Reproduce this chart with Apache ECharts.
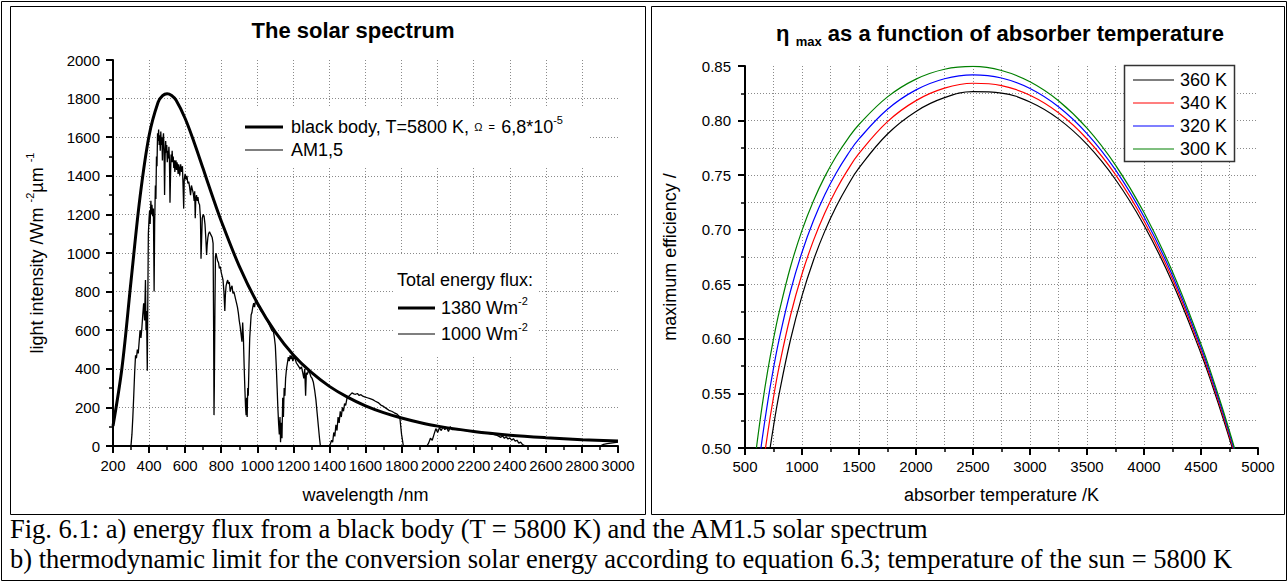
<!DOCTYPE html>
<html>
<head>
<meta charset="utf-8">
<script src="https://cdn.jsdelivr.net/npm/echarts@6/dist/echarts.min.js"></script>
<style>
html,body{margin:0;padding:0;background:#fff;}
#chart{width:1288px;height:583px;}
</style>
</head>
<body>
<div id="chart"></div>
<script>
// ---- Panel a) black body (Planck, T=5800 K) ----
const bbNm  = [200,250,300,350,400,450,475,500,525,550,600,650,700,750,800,900,1000,1100,1200,1300,1400,1500,1600,1700,1800,1900,2000,2200,2400,2600,2800,3000];
const bbVal = [104,407,855,1291,1608,1781,1815,1825,1816,1791,1697,1573,1436,1298,1166,932,741,590,472,381,309,253,208,173,145,122,103,75,56,43,33,26];

// ---- Panel a) AM1.5 spectrum ----
const am15Nm = [
 295,300,305,310,315,320,325,330,335,340,345,350,355,360,365,370,375,380,383,386,390,393,396,
 400,403,406,410,413,416,420,424,428,431,435,438,441,444,447,450,453,456,459,462,465,468,471,474,477,480,483,486,489,492,495,498,
 501,504,507,510,513,516,519,522,525,528,531,534,537,540,543,546,549,552,555,558,561,564,567,570,575,580,585,589,592,595,
 600,605,610,615,620,625,630,635,640,645,650,653,656,659,663,667,671,675,680,685,688,691,695,
 700,705,710,715,719,722,726,730,735,740,745,750,755,758,760,762,765,768,771,775,780,785,790,795,
 800,805,810,815,820,823,827,832,836,840,845,850,855,860,865,870,875,880,885,890,895,
 900,905,910,915,919,923,927,931,935,938,941,944,947,950,954,958,962,966,970,975,980,985,990,995,
 1000,1010,1020,1030,1040,1050,1060,1070,1080,1090,1095,1100,1105,1110,1114,1118,1122,1126,1129,1133,1137,1141,1145,1149,1153,1157,1162,1167,1172,1177,1182,1187,1192,1197,
 1203,1210,1217,1224,1231,1238,1245,1252,1258,1263,1268,1272,1277,1283,1290,1297,1304,1311,1318,1325,1332,1339,1345,1350,
 1400,1405,1412,1418,1424,1430,1436,1442,1448,1454,1460,1466,1472,1478,1484,1490,1497,
 1505,1515,1525,1535,1545,1555,1565,1575,1585,1595,1610,1625,1640,1655,1670,1685,1700,1715,1730,1745,1760,1775,1790,1800,1810,
 1940,1950,1960,1970,1980,1990,2000,2010,2020,2030,2040,2050,2060,2070,2080,2100,2130,2160,2190,2220,2250,2280,2310,2330,2350,2360,2370,2380,2390,2400,2410,2420,2430,2440,2450,2460,2470,2480,2490,
 2900,2920,2940,2960,2980,3000
];
const am15Val = [
 0,5,60,150,260,380,470,455,500,480,540,600,560,610,680,740,650,860,600,700,390,760,1100,
 1180,1220,1150,1270,1200,1250,1190,1230,800,1150,1350,1280,1500,1450,1620,1580,1640,1560,1610,1530,1630,1560,1600,1480,1590,1620,1540,1300,1500,1580,1520,1560,
 1470,1530,1490,1550,1480,1260,1400,1510,1470,1530,1470,1500,1440,1480,1420,1470,1480,1430,1470,1450,1410,1460,1440,1400,1460,1420,1450,1330,1230,1380,
 1410,1380,1400,1360,1370,1340,1300,1350,1330,1310,1270,1320,1180,1280,1300,1270,1290,1260,1250,1180,970,1060,1180,
 1200,1190,1150,1070,990,1040,1080,1100,1110,1100,1090,1080,1050,600,160,320,700,980,1000,980,960,950,920,930,
 900,880,860,800,700,780,830,850,860,840,850,800,820,830,790,800,780,760,740,720,690,
 650,620,580,540,640,560,420,300,200,160,250,150,300,260,420,560,620,680,690,720,740,720,750,745,
 735,720,700,690,680,660,640,620,600,590,560,520,420,300,200,120,60,150,20,120,40,250,150,300,260,350,400,430,460,440,470,450,470,440,
 460,450,430,420,410,400,410,380,350,400,260,380,370,390,380,360,350,330,290,240,170,100,40,0,
 0,10,30,20,70,50,110,80,150,120,180,150,200,180,220,210,245,
 255,265,275,270,268,272,262,266,258,255,250,245,240,232,225,212,205,195,185,180,172,165,150,60,0,
 0,15,40,30,60,90,70,95,80,100,85,95,75,100,85,85,82,80,76,74,70,66,60,55,45,52,40,48,36,42,30,38,25,30,15,20,8,3,0,
 0,8,12,15,18,20
];

// ---- Panel b) maximum efficiency vs absorber temperature ----
const absorberK = [600,650,700,750,800,900,1000,1100,1200,1300,1400,1500,1750,2000,2250,2500,2750,3000,3250,3500,3750,4000,4250,4500,4600,4700,4800];
const eff360 = [.39995,.44608,.48561,.51985,.54980,.59965,.63943,.67186,.69872,.72125,.74034,.75660,.78771,.80841,.82098,.82645,.82517,.81701,.80156,.77817,.74603,.70414,.65141,.58664,.55705,.52524,.49109];
const eff340 = [.43328,.47684,.51418,.54652,.57479,.62186,.65942,.69002,.71536,.73660,.75457,.76987,.79903,.81826,.82967,.83418,.83207,.82320,.80711,.78313,.75043,.70800,.65476,.58947,.55968,.52766,.49330];
const eff320 = [.46662,.50761,.54274,.57317,.59978,.64407,.67940,.70817,.73199,.75195,.76881,.78315,.81037,.82812,.83835,.84190,.83898,.82939,.81266,.78809,.75483,.71187,.65811,.59230,.56230,.53008,.49551];
const eff300 = [.49994,.53838,.57131,.59983,.62477,.66628,.69938,.72633,.74863,.76729,.78305,.79642,.82170,.83798,.84704,.84962,.84589,.83558,.81820,.79305,.75923,.71574,.66146,.59514,.56493,.53250,.49772];
const effNames  = ['360 K','340 K','320 K','300 K'];
const effColors = ['#000000','#ff0000','#0000ff','#008000'];

const FONT = '"Liberation Sans", Arial, sans-serif';
const SERIF = '"Liberation Serif", "Times New Roman", serif';
const pairs = (xs, ys) => xs.map((x, i) => [x, ys[i]]);

const gridLine = {show:true, showMinLine:false, showMaxLine:false, lineStyle:{color:'#8a8a8a', type:[1,2], width:1}};
const minorGrid = {show:true, lineStyle:{color:'#8a8a8a', type:[1,2], width:1}};
function label(margin, fmt){
  return {color:'#000', fontSize:15, fontFamily:FONT, margin:margin, showMinLabel:true, showMaxLabel:true, hideOverlap:false, formatter:fmt};
}
function axisCommon(extra){
  return Object.assign({
    type:'value',
    axisLine:{show:true, onZero:false, lineStyle:{color:'#000', width:2}},
    axisTick:{show:true, inside:false, length:7, lineStyle:{color:'#000', width:2}},
    minorTick:{show:true, splitNumber:2, length:4, lineStyle:{color:'#000', width:1.5}},
    splitLine:gridLine,
    nameTextStyle:{color:'#000', fontSize:18, fontFamily:FONT, lineHeight:18}
  }, extra);
}

const txt = (x, y, text, extra) => ({
  type:'text', z:10, x:x, y:y,
  style:Object.assign({text:text, fill:'#000', fontSize:18, fontFamily:FONT, align:'left', verticalAlign:'middle', textAlign:'left', textVerticalAlign:'middle'}, extra || {})
});
const sup = {fontSize:11, fontFamily:FONT, fill:'#000', verticalAlign:'top'};
const seg = (x1, x2, y, w, c) => ({type:'line', z:10, shape:{x1:x1, y1:y, x2:x2, y2:y}, style:{stroke:c || '#000', lineWidth:w}});

// right-hand legend (box + entries)
const rightLegend = [{type:'rect', z:9, shape:{x:1124.5, y:65.5, width:110, height:96}, style:{fill:'#fff', stroke:'#333', lineWidth:1.5}}];
effNames.forEach((n, i) => {
  const y = 80 + i * 23;
  rightLegend.push(seg(1133, 1174, y, 1.2, effColors[i]));
  rightLegend.push(txt(1180, y, n));
});

const chart = echarts.init(document.getElementById('chart'), null, {renderer:'svg'});
chart.setOption({
  animation:false,
  backgroundColor:'#fff',
  grid:[
    {left:113, top:60, width:505, height:386},
    {left:745, top:66, width:513, height:382}
  ],
  xAxis:[
    axisCommon({gridIndex:0, min:200, max:3000, interval:200,
      axisLabel:label(12, v => String(v)),
      name:'wavelength /nm', nameLocation:'middle', nameGap:40}),
    axisCommon({gridIndex:1, min:500, max:5000, interval:500,
      axisLabel:label(11, v => String(v)),
      minorSplitLine:minorGrid,
      name:'absorber temperature /K', nameLocation:'middle', nameGap:38})
  ],
  yAxis:[
    axisCommon({gridIndex:0, min:0, max:2000, interval:200,
      axisLabel:label(13, v => String(v)),
      name:'light intensity /Wm {sup|-2}µm {sup|-1}', nameLocation:'middle', nameRotate:90, nameGap:63,
      nameTextStyle:{color:'#000', fontSize:18, fontFamily:FONT, lineHeight:26,
        rich:{sup:{fontSize:11, fontFamily:FONT, color:'#000', verticalAlign:'top'}}}}),
    axisCommon({gridIndex:1, min:0.5, max:0.85, interval:0.05,
      axisLabel:label(14, v => v.toFixed(2)),
      minorSplitLine:minorGrid,
      name:'maximum efficiency /', nameLocation:'middle', nameRotate:90, nameGap:66})
  ],
  series:[
    {name:'AM1,5', type:'line', xAxisIndex:0, yAxisIndex:0, data:pairs(am15Nm, am15Val),
      symbol:'none', lineStyle:{color:'#000', width:1.3}, itemStyle:{color:'#000'}, z:3},
    {name:'black body', type:'line', xAxisIndex:0, yAxisIndex:0, data:pairs(bbNm, bbVal),
      symbol:'none', smooth:0.35, lineStyle:{color:'#000', width:3}, itemStyle:{color:'#000'}, z:4},
    ...[eff360, eff340, eff320, eff300].map((vals, i) => ({
      name:effNames[i], type:'line', xAxisIndex:1, yAxisIndex:1, data:pairs(absorberK, vals),
      symbol:'none', smooth:0.4, lineStyle:{color:effColors[i], width:1.2}, itemStyle:{color:effColors[i]}, z:3+i
    }))
  ],
  graphic:[
    {type:'rect', z:0, shape:{x:1.5, y:1.5, width:1285, height:579}, style:{fill:'transparent', stroke:'#000', lineWidth:1}},
    {type:'rect', z:0, shape:{x:10.5, y:6.5, width:635, height:508}, style:{fill:'transparent', stroke:'#000', lineWidth:1}},
    {type:'rect', z:0, shape:{x:651.5, y:6.5, width:633, height:508}, style:{fill:'transparent', stroke:'#000', lineWidth:1}},
    // legend backgrounds (hide the grid)
    {type:'rect', z:1, shape:{x:227, y:107, width:363, height:59}, style:{fill:'#fff'}},
    {type:'rect', z:1, shape:{x:393, y:255, width:144, height:100}, style:{fill:'#fff'}},
    // legend panel a)
    seg(245, 283, 127, 3),
    seg(245, 283, 150, 1.2),
    txt(291, 127, 'black body, T=5800 K, {o|Ω  =  }6,8*10{sup|-5}', {lineHeight:26, rich:{o:{fontSize:11, fontFamily:FONT, fill:'#000'}, sup:sup}}),
    txt(291, 150, 'AM1,5'),
    txt(397, 280, 'Total energy flux:'),
    seg(398, 435, 308, 3),
    txt(441, 308, '1380 Wm{sup|-2}', {lineHeight:26, rich:{sup:sup}}),
    seg(398, 435, 334, 1.2),
    txt(441, 334, '1000 Wm{sup|-2}', {lineHeight:26, rich:{sup:sup}}),
    ...rightLegend,
    // titles
    txt(353, 30, 'The solar spectrum', {fontSize:22, fontWeight:'bold', align:'center', textAlign:'center'}),
    txt(1000, 33, '{eta|η} {sub|max} as a function of absorber temperature', {fontSize:22, fontWeight:'bold', align:'center', textAlign:'center', lineHeight:30,
      rich:{eta:{fontSize:22, fontFamily:FONT, fontWeight:'bold', fill:'#000'}, sub:{fontSize:13, fontFamily:FONT, fontWeight:'bold', fill:'#000', verticalAlign:'bottom'}}}),
    // caption
    txt(10, 529, 'Fig. 6.1: a) energy flux from a black body (T = 5800 K) and the AM1.5 solar spectrum', {fontSize:26.5, fontFamily:SERIF}),
    txt(10, 559, 'b) thermodynamic limit for the conversion solar energy according to equation 6.3; temperature of the sun = 5800 K', {fontSize:26.5, fontFamily:SERIF})
  ]
});
</script>
</body>
</html>
